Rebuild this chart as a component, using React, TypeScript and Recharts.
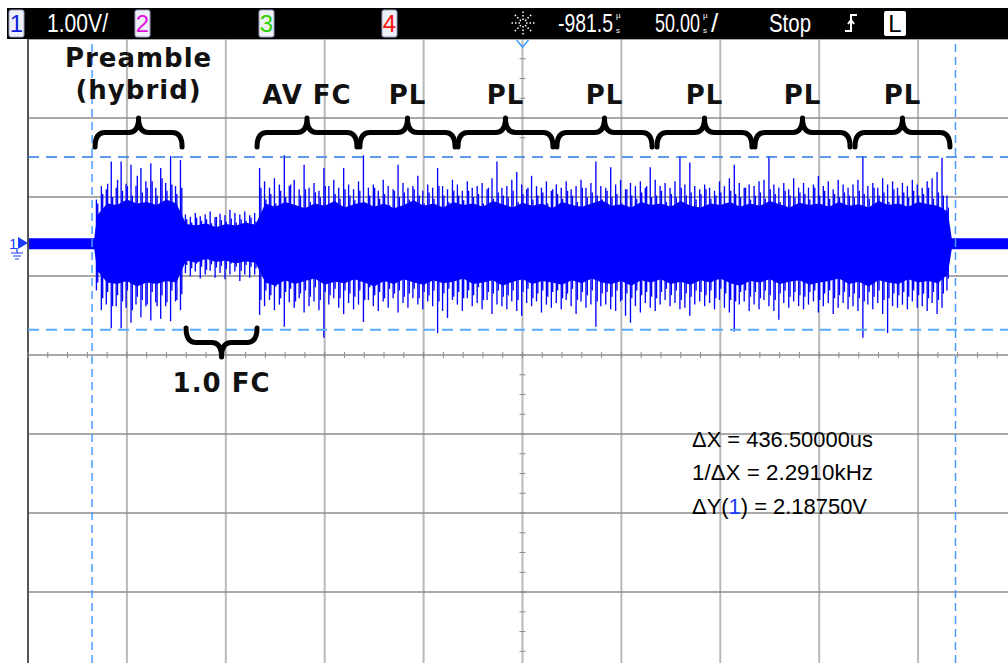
import React from 'react';
import { ComposedChart, Area, Bar, XAxis, YAxis, CartesianGrid, ReferenceLine } from 'recharts';

const W = 1008;
const H = 663;
const TOP = 39;
const LEFT = 28;
const T_MAX = 495.45; // µs visible across the screen (50 µs/div)
const V_MAX = 2.582; // volts at the top graticule edge (1 V/div)
const V_MIN = -5.316;

// cursor readout
const X1 = 32.4;
const DELTA_X = 436.5;
const Y1 = 1.09;
const DELTA_Y = 2.1875;

// flat trace level before and after the burst
const idleHi = 0.06;
const idleLo = -0.08;
const burstStart = 33.5;
const burstEnd = 467;

// peak excursions, one column every 2.5 µs starting at 35 µs
const PEAK_START = 35;
const PEAK_STEP = 2.5;
const preamblePeakHi = [0.55, 0.72, 0.68, 1.03, 0.7, 1.03, 0.75, 0.99, 0.72, 0.95, 0.78, 1.01, 0.7, 0.95, 0.76, 1.1, 0.72, 1.05];
const preamblePeakLo = [-0.6, -0.85, -0.78, -1.08, -0.8, -1.08, -0.82, -1.01, -0.78, -0.94, -0.8, -0.98, -0.75, -0.96, -0.8, -0.99, -0.74, -0.85];
const fcPeakHi = [0.36, 0.33, 0.38, 0.34, 0.36, 0.4, 0.33, 0.37, 0.35, 0.42, 0.38, 0.36, 0.4, 0.35, 0.38];
const fcPeakLo = [-0.38, -0.42, -0.36, -0.45, -0.4, -0.35, -0.44, -0.38, -0.46, -0.4, -0.36, -0.48, -0.4, -0.44, -0.4];
const payloadPeakHi = [
  0.95, 0.78, 0.7, 0.82, 0.74, 1.11, 0.72, 0.8, 0.68, 0.99,
  0.7, 0.76, 0.66, 0.95, 0.72, 0.8, 0.7, 0.95, 0.74, 0.68,
  0.78, 1.11, 0.7, 0.74, 0.66, 0.8, 0.72, 0.68, 0.99, 0.76,
  0.7, 0.72, 0.85, 0.66, 0.74, 0.7, 0.95, 0.72, 0.68, 0.8,
  0.74, 0.66, 0.78, 0.7, 0.72, 0.76, 0.68, 0.82, 1.03, 0.7,
  0.72, 0.8, 0.9, 0.74, 0.68, 0.85, 0.72, 0.7, 0.78, 0.66,
  0.74, 0.7, 0.78, 0.68, 0.72, 0.8, 0.7, 0.76, 1.03, 0.72,
  0.7, 0.96, 0.74, 0.8, 0.68, 0.76, 0.72, 0.78, 0.7, 0.96,
  0.8, 0.72, 0.76, 0.7, 0.78, 1.1, 0.74, 1.02, 0.72, 0.68,
  0.74, 0.7, 0.66, 0.78, 0.72, 0.82, 0.99, 0.76, 0.7, 0.74,
  0.72, 0.78, 0.8, 1.1, 0.74, 0.7, 0.76, 0.68, 0.82, 0.7,
  0.76, 0.7, 0.74, 0.85, 0.72, 0.78, 0.68, 0.8, 0.74, 0.7,
  0.74, 0.8, 1.1, 0.72, 0.76, 0.7, 0.82, 0.74, 0.78, 0.7,
  0.76, 0.72, 0.8, 0.74, 0.7, 0.78, 0.82, 0.9, 1.08, 0.6,
];
const payloadPeakLo = [
  -0.91, -0.8, -0.72, -0.85, -0.78, -1.06, -0.75, -0.82, -0.7, -0.88,
  -0.8, -0.74, -0.85, -1.2, -0.78, -0.7, -0.82, -0.9, -0.76, -0.84,
  -0.78, -1.0, -0.72, -0.8, -0.86, -0.74, -0.82, -0.7, -0.88, -0.76,
  -0.82, -0.7, -0.78, -0.84, -0.74, -0.8, -1.14, -0.86, -0.95, -0.72,
  -0.78, -0.86, -0.7, -0.8, -0.76, -0.84, -0.72, -0.9, -0.78, -0.8,
  -0.84, -0.74, -0.86, -0.92, -0.76, -0.8, -0.74, -0.88, -0.78, -0.82,
  -0.76, -0.84, -0.72, -0.8, -0.9, -0.74, -0.82, -0.78, -1.06, -0.8,
  -0.78, -0.84, -0.86, -0.74, -0.92, -1.01, -0.8, -0.88, -0.76, -0.82,
  -0.86, -0.78, -0.72, -0.8, -0.76, -0.84, -0.82, -0.92, -0.78, -0.74,
  -0.8, -0.76, -0.84, -0.72, -0.82, -0.88, -1.12, -0.78, -0.74, -0.86,
  -0.78, -0.84, -0.72, -0.8, -0.86, -0.97, -0.76, -0.82, -0.74, -0.8,
  -0.84, -0.78, -0.74, -0.88, -0.8, -0.76, -0.9, -0.82, -0.76, -0.84,
  -0.8, -0.86, -1.2, -0.78, -0.84, -0.76, -0.9, -1.14, -0.8, -0.82,
  -0.78, -0.84, -0.74, -0.82, -0.8, -0.86, -0.76, -0.9, -0.82, -0.6,
];

// in-between swings, same 2.5 µs columns as the peaks
const preambleSwingHi = [0.5, 0.62, 0.75, 0.58, 0.8, 0.66, 0.72, 0.6, 0.85, 0.64, 0.7, 0.78, 0.6, 0.82, 0.66, 0.74, 0.62, 0.7];
const preambleSwingLo = [-0.5, -0.7, -0.62, -0.8, -0.66, -0.74, -0.6, -0.85, -0.68, -0.72, -0.78, -0.62, -0.8, -0.66, -0.75, -0.6, -0.72, -0.65];
const fcSwingHi = [0.3, 0.26, 0.32, 0.28, 0.3, 0.25, 0.33, 0.29, 0.27, 0.31, 0.26, 0.3, 0.28, 0.32, 0.27];
const fcSwingLo = [-0.28, -0.32, -0.26, -0.3, -0.34, -0.27, -0.31, -0.29, -0.33, -0.26, -0.3, -0.35, -0.28, -0.3, -0.32];
const payloadSwingHi = [
  0.7, 0.55, 0.62, 0.5, 0.66, 0.58, 0.74, 0.48, 0.6, 0.68,
  0.52, 0.64, 0.58, 0.72, 0.5, 0.62, 0.56, 0.68, 0.6, 0.54,
  0.66, 0.5, 0.6, 0.7, 0.56, 0.62, 0.48, 0.66, 0.58, 0.64,
  0.55, 0.68, 0.6, 0.5, 0.64, 0.56, 0.72, 0.6, 0.52, 0.66,
  0.6, 0.54, 0.66, 0.58, 0.62, 0.5, 0.7, 0.56, 0.64, 0.6,
  0.58, 0.66, 0.52, 0.62, 0.7, 0.55, 0.6, 0.64, 0.5, 0.68,
  0.62, 0.56, 0.66, 0.6, 0.52, 0.7, 0.58, 0.64, 0.6, 0.55,
  0.66, 0.58, 0.62, 0.5, 0.68, 0.6, 0.56, 0.64, 0.72, 0.58,
  0.6, 0.66, 0.52, 0.62, 0.58, 0.7, 0.6, 0.64, 0.55, 0.62,
  0.68, 0.56, 0.6, 0.64, 0.5, 0.66, 0.62, 0.58, 0.7, 0.55,
  0.6, 0.64, 0.56, 0.68, 0.62, 0.52, 0.66, 0.6, 0.58, 0.64,
  0.62, 0.55, 0.7, 0.6, 0.66, 0.56, 0.62, 0.58, 0.64, 0.6,
  0.58, 0.66, 0.62, 0.56, 0.7, 0.6, 0.64, 0.52, 0.68, 0.6,
  0.64, 0.58, 0.66, 0.6, 0.62, 0.7, 0.56, 0.64, 0.6, 0.45,
];
const payloadSwingLo = [
  -0.72, -0.6, -0.66, -0.55, -0.7, -0.62, -0.58, -0.74, -0.64, -0.6,
  -0.68, -0.56, -0.72, -0.62, -0.66, -0.58, -0.7, -0.6, -0.64, -0.68,
  -0.6, -0.72, -0.56, -0.66, -0.62, -0.7, -0.58, -0.64, -0.6, -0.68,
  -0.64, -0.58, -0.7, -0.62, -0.66, -0.6, -0.74, -0.64, -0.58, -0.68,
  -0.62, -0.7, -0.6, -0.66, -0.56, -0.72, -0.62, -0.64, -0.6, -0.68,
  -0.66, -0.6, -0.72, -0.62, -0.58, -0.7, -0.64, -0.6, -0.68, -0.62,
  -0.6, -0.7, -0.64, -0.58, -0.72, -0.62, -0.66, -0.6, -0.74, -0.64,
  -0.62, -0.68, -0.6, -0.72, -0.64, -0.7, -0.6, -0.66, -0.62, -0.68,
  -0.7, -0.62, -0.58, -0.66, -0.6, -0.72, -0.64, -0.68, -0.6, -0.62,
  -0.66, -0.6, -0.7, -0.58, -0.64, -0.72, -0.74, -0.62, -0.6, -0.68,
  -0.62, -0.7, -0.6, -0.66, -0.72, -0.64, -0.6, -0.68, -0.62, -0.66,
  -0.68, -0.62, -0.6, -0.72, -0.64, -0.6, -0.7, -0.66, -0.62, -0.68,
  -0.64, -0.7, -0.74, -0.62, -0.68, -0.6, -0.72, -0.7, -0.64, -0.66,
  -0.62, -0.68, -0.6, -0.66, -0.64, -0.7, -0.62, -0.72, -0.64, -0.45,
];

// dense core of the signal, one value every 5 µs starting at 35 µs
const CORE_START = 35;
const CORE_STEP = 5;
const preambleCoreHi = [0.35, 0.5, 0.48, 0.55, 0.5, 0.52, 0.48, 0.55, 0.5];
const preambleCoreLo = [-0.35, -0.5, -0.52, -0.48, -0.55, -0.5, -0.52, -0.48, -0.5];
const fcCoreHi = [0.24, 0.22, 0.25, 0.2, 0.24, 0.22, 0.26, 0.23];
const fcCoreLo = [-0.22, -0.25, -0.2, -0.24, -0.22, -0.26, -0.23, -0.25];
const payloadCoreHi = [
  0.5, 0.46, 0.52, 0.48, 0.44, 0.5, 0.47, 0.53, 0.45, 0.49,
  0.52, 0.46, 0.5, 0.44, 0.48, 0.54, 0.47, 0.5, 0.45, 0.52,
  0.48, 0.5, 0.46, 0.53, 0.49, 0.45, 0.51, 0.47, 0.5, 0.44,
  0.52, 0.48, 0.46, 0.5, 0.54, 0.47, 0.49, 0.45, 0.52, 0.48,
  0.5, 0.46, 0.53, 0.47, 0.45, 0.5, 0.48, 0.52, 0.46, 0.5,
  0.47, 0.53, 0.49, 0.45, 0.51, 0.48, 0.5, 0.46, 0.52, 0.47,
  0.49, 0.45, 0.53, 0.48, 0.5, 0.46, 0.52, 0.49, 0.47, 0.4,
];
const payloadCoreLo = [
  -0.5, -0.54, -0.47, -0.52, -0.48, -0.45, -0.53, -0.49, -0.51, -0.46,
  -0.5, -0.55, -0.48, -0.52, -0.46, -0.5, -0.53, -0.47, -0.51, -0.49,
  -0.45, -0.52, -0.5, -0.47, -0.54, -0.49, -0.46, -0.52, -0.48, -0.5,
  -0.53, -0.47, -0.51, -0.45, -0.5, -0.52, -0.48, -0.54, -0.47, -0.5,
  -0.46, -0.52, -0.49, -0.53, -0.47, -0.5, -0.45, -0.51, -0.54, -0.48,
  -0.5, -0.46, -0.52, -0.49, -0.47, -0.53, -0.5, -0.48, -0.45, -0.52,
  -0.49, -0.55, -0.47, -0.5, -0.52, -0.46, -0.5, -0.48, -0.51, -0.4,
];

// frame sections marked with braces, in µs
const topBraces = [
  { from: 33.9, to: 77.9 },
  { from: 115.8, to: 166.3 },
  { from: 167.8, to: 215.9 },
  { from: 217.4, to: 265.4 },
  { from: 267.4, to: 315.5 },
  { from: 318.0, to: 366.0 },
  { from: 367.5, to: 415.6 },
  { from: 418.1, to: 466.1 },
];
const sectionLabels = ['AV FC', 'PL', 'PL', 'PL', 'PL', 'PL', 'PL'];
const fcBrace = { from: 79.9, to: 115.8 };

const peakHi = [...preamblePeakHi, ...fcPeakHi, ...payloadPeakHi];
const peakLo = [...preamblePeakLo, ...fcPeakLo, ...payloadPeakLo];
const swingHi = [...preambleSwingHi, ...fcSwingHi, ...payloadSwingHi];
const swingLo = [...preambleSwingLo, ...fcSwingLo, ...payloadSwingLo];
const columnRows = peakHi.map((hi, i) => ({
  t: PEAK_START + i * PEAK_STEP,
  peak: [peakLo[i], hi],
  swing: [swingLo[i], swingHi[i]],
}));

const coreHi = [...preambleCoreHi, ...fcCoreHi, ...payloadCoreHi];
const coreLo = [...preambleCoreLo, ...fcCoreLo, ...payloadCoreLo];
const coreRows = [
  { t: 0, band: [idleLo, idleHi] },
  { t: burstStart, band: [idleLo, idleHi] },
  ...coreHi.map((hi, i) => ({ t: CORE_START + i * CORE_STEP, band: [coreLo[i], hi] })),
  { t: burstEnd, band: [idleLo, idleHi] },
  { t: T_MAX, band: [idleLo, idleHi] },
];

const tx = (t: number) => LEFT + (t / T_MAX) * (W - LEFT);
const vy = (v: number) => TOP + ((V_MAX - v) / (V_MAX - V_MIN)) * (H - TOP);

const gridX = Array.from({ length: 10 }, (_, k) => tx(k * 50));
const gridY = Array.from({ length: 8 }, (_, k) => vy(V_MAX - k));

const SCOPE_FONT = "'Liberation Sans Narrow', 'Liberation Sans', Arial, sans-serif";
const NOTE_FONT = "'DejaVu Sans', sans-serif";
const NARROW = 0.65; // horizontal squeeze for the status bar readings

const brace = (x1: number, x2: number, yTip: number, yEnd: number) => {
  const ym = (yTip + yEnd) / 2;
  const xc = (x1 + x2) / 2;
  const r = 10;
  return `M${x1} ${yEnd} Q${x1} ${ym} ${x1 + r} ${ym} L${xc - r} ${ym} Q${xc} ${ym} ${xc} ${yTip} Q${xc} ${ym} ${xc + r} ${ym} L${x2 - r} ${ym} Q${x2} ${ym} ${x2} ${yEnd}`;
};

const ChannelBox = ({ x, label, color }: { x: number; label: string; color: string }) => (
  <g>
    <rect x={x} y={10} width={15} height={27} rx={2} fill="#eef0f8" stroke="#9aa0c0" />
    <text x={x + 7.5} y={32} textAnchor="middle" fontSize={24} fill={color} fontFamily={SCOPE_FONT}>{label}</text>
  </g>
);

// status-bar reading followed by a tiny stacked "µ over s" unit
const TimeReading = ({ x, width, value, slash }: { x: number; width: number; value: string; slash?: boolean }) => (
  <g>
    <g transform={`translate(${x} 32) scale(${NARROW} 1)`}>
      <text x={0} y={0} fill="#fff" fontFamily={SCOPE_FONT} fontSize={26} textLength={width / NARROW} lengthAdjust="spacingAndGlyphs">{value}</text>
    </g>
    <text x={x + width + 3} y={18} fill="#fff" fontFamily={SCOPE_FONT} fontSize={8}>µ</text>
    <text x={x + width + 3} y={33} fill="#fff" fontFamily={SCOPE_FONT} fontSize={8}>s</text>
    {slash ? <text x={x + width + 11} y={32} fill="#fff" fontFamily={SCOPE_FONT} fontSize={26}>/</text> : null}
  </g>
);

const Overlay = () => {
  const centerY = vy(V_MAX - 4);
  const centerX = tx(250);
  const minorX = Array.from({ length: 50 }, (_, k) => tx(k * 10));
  const minorY = Array.from({ length: 32 }, (_, k) => vy(V_MAX - k * 0.25)).filter(y => y < 150 || y > 345);
  const starRays = Array.from({ length: 8 }, (_, k) => (k * Math.PI) / 4);
  return (
    <svg width={W} height={H} style={{ position: 'absolute', left: 0, top: 0, pointerEvents: 'none' }}>
      {minorX.map((x, i) => (
        <line key={`mx${i}`} x1={x} x2={x} y1={centerY - 3} y2={centerY + 3} stroke="#8c8c8c" strokeWidth={1} />
      ))}
      {minorY.map((y, i) => (
        <line key={`my${i}`} x1={centerX - 3} x2={centerX + 3} y1={y} y2={y} stroke="#8c8c8c" strokeWidth={1} />
      ))}

      {/* status bar */}
      <rect x={7} y={8} width={W - 7} height={31} fill="#000" />
      <ChannelBox x={9} label="1" color="#1020e0" />
      <text x={47} y={32} fontSize={26} fill="#fff" fontFamily={SCOPE_FONT} textLength={61} lengthAdjust="spacingAndGlyphs">1.00V/</text>
      <ChannelBox x={135} label="2" color="#e010e0" />
      <ChannelBox x={259} label="3" color="#30d000" />
      <ChannelBox x={382} label="4" color="#ff1010" />
      {starRays.map((a, i) => (
        <line key={`ray${i}`} x1={523 + Math.cos(a) * 3} y1={23 + Math.sin(a) * 3} x2={523 + Math.cos(a) * 12} y2={23 + Math.sin(a) * 12}
          stroke="#fff" strokeWidth={1.5} strokeDasharray="1.5 2" />
      ))}
      <TimeReading x={558} width={55} value="-981.5" />
      <TimeReading x={655} width={45} value="50.00" slash />
      <text x={769} y={32} fontSize={26} fill="#fff" fontFamily={SCOPE_FONT} textLength={42} lengthAdjust="spacingAndGlyphs">Stop</text>
      <path d="M845 31 L851 31 L851 15 L857 15 M848 24 L851 20 L854 24" stroke="#fff" strokeWidth={2} fill="none" />
      <rect x={884} y={11} width={22} height={25} rx={2} fill="#fff" />
      <text x={895} y={32} textAnchor="middle" fontSize={24} fill="#000" fontFamily={SCOPE_FONT}>L</text>

      {/* trigger position and channel ground markers */}
      <path d={`M${centerX - 6} 40 L${centerX} 47 L${centerX + 6} 40`} stroke="#3c9cff" strokeWidth={1.5} fill="none" />
      <text x={9} y={249} fontSize={15} fill="#1a3cff" fontFamily={SCOPE_FONT}>1</text>
      <path d={`M18 ${vy(0) - 6} L28 ${vy(0)} L18 ${vy(0) + 6} Z`} fill="#1a3cff" />
      <path d="M17 248 L17 253 M11 253 L23 253 M13 256 L21 256 M15 259 L19 259" stroke="#1a3cff" strokeWidth={1.2} />

      {/* frame annotations */}
      {topBraces.map((b, i) => (
        <path key={`br${i}`} d={brace(tx(b.from), tx(b.to), 118, 147)} stroke="#000" strokeWidth={5} fill="none" strokeLinecap="round" strokeLinejoin="round" />
      ))}
      <path d={brace(tx(fcBrace.from), tx(fcBrace.to), 357, 328)} stroke="#000" strokeWidth={5} fill="none" strokeLinecap="round" strokeLinejoin="round" />
      <text x={tx((topBraces[0].from + topBraces[0].to) / 2)} y={67} textAnchor="middle" fontSize={26} fontWeight="bold" fill="#111" fontFamily={NOTE_FONT} letterSpacing={1}>Preamble</text>
      <text x={tx((topBraces[0].from + topBraces[0].to) / 2)} y={99} textAnchor="middle" fontSize={26} fontWeight="bold" fill="#111" fontFamily={NOTE_FONT} letterSpacing={1}>(hybrid)</text>
      {sectionLabels.map((label, i) => {
        const b = topBraces[i + 1];
        return (
          <text key={`lb${i}`} x={tx((b.from + b.to) / 2)} y={104} textAnchor="middle" fontSize={26} fontWeight="bold" fill="#111" fontFamily={NOTE_FONT} letterSpacing={1}>{label}</text>
        );
      })}
      <text x={tx((fcBrace.from + fcBrace.to) / 2)} y={392} textAnchor="middle" fontSize={26} fontWeight="bold" fill="#111" fontFamily={NOTE_FONT} letterSpacing={1}>1.0 FC</text>

      {/* cursor measurements */}
      <text x={692} y={447} fontSize={22} fill="#000" fontFamily={SCOPE_FONT} textLength={181} lengthAdjust="spacingAndGlyphs">ΔX = {DELTA_X.toFixed(5)}us</text>
      <text x={692} y={480} fontSize={22} fill="#000" fontFamily={SCOPE_FONT} textLength={181} lengthAdjust="spacingAndGlyphs">1/ΔX = {(1000 / DELTA_X).toFixed(4)}kHz</text>
      <text x={692} y={514} fontSize={22} fill="#000" fontFamily={SCOPE_FONT} textLength={175} lengthAdjust="spacingAndGlyphs">
        ΔY(<tspan fill="#1a3cff">1</tspan>) = {DELTA_Y.toFixed(5)}V
      </text>
    </svg>
  );
};

export default function App() {
  return (
    <div style={{ position: 'relative', width: W, height: H, background: '#fff', overflow: 'hidden' }}>
      <style>{'body{margin:0}'}</style>
      <ComposedChart width={W} height={H} data={columnRows} barGap={0.5} margin={{ top: TOP, left: LEFT, right: 0, bottom: 0 }}>
        <CartesianGrid horizontal={false} verticalPoints={gridX} stroke="#b8b8b8" strokeWidth={2} />
        <CartesianGrid vertical={false} horizontalPoints={gridY} stroke="#8c8c8c" strokeWidth={1.5} />
        <XAxis dataKey="t" type="number" domain={[0, T_MAX]} allowDataOverflow hide />
        <YAxis type="number" domain={[V_MIN, V_MAX]} allowDataOverflow hide />
        <ReferenceLine x={0} stroke="#555" strokeWidth={2} />
        <Area data={coreRows} dataKey="band" type="linear" stroke="none" fill="#0000ff" fillOpacity={1} isAnimationActive={false} />
        <Bar dataKey="peak" barSize={2} fill="#0000ff" isAnimationActive={false} />
        <Bar dataKey="swing" barSize={2} fill="#0000ff" isAnimationActive={false} />
        <ReferenceLine x={X1} stroke="#4a9dff" strokeWidth={1.5} strokeDasharray="8 5" />
        <ReferenceLine x={X1 + DELTA_X} stroke="#4a9dff" strokeWidth={1.5} strokeDasharray="8 5" />
        <ReferenceLine y={Y1} stroke="#2a7be4" strokeWidth={1.5} strokeDasharray="11 7" />
        <ReferenceLine y={Y1 - DELTA_Y} stroke="#5aaaff" strokeWidth={2} strokeDasharray="11 7" />
      </ComposedChart>
      <Overlay />
    </div>
  );
}
